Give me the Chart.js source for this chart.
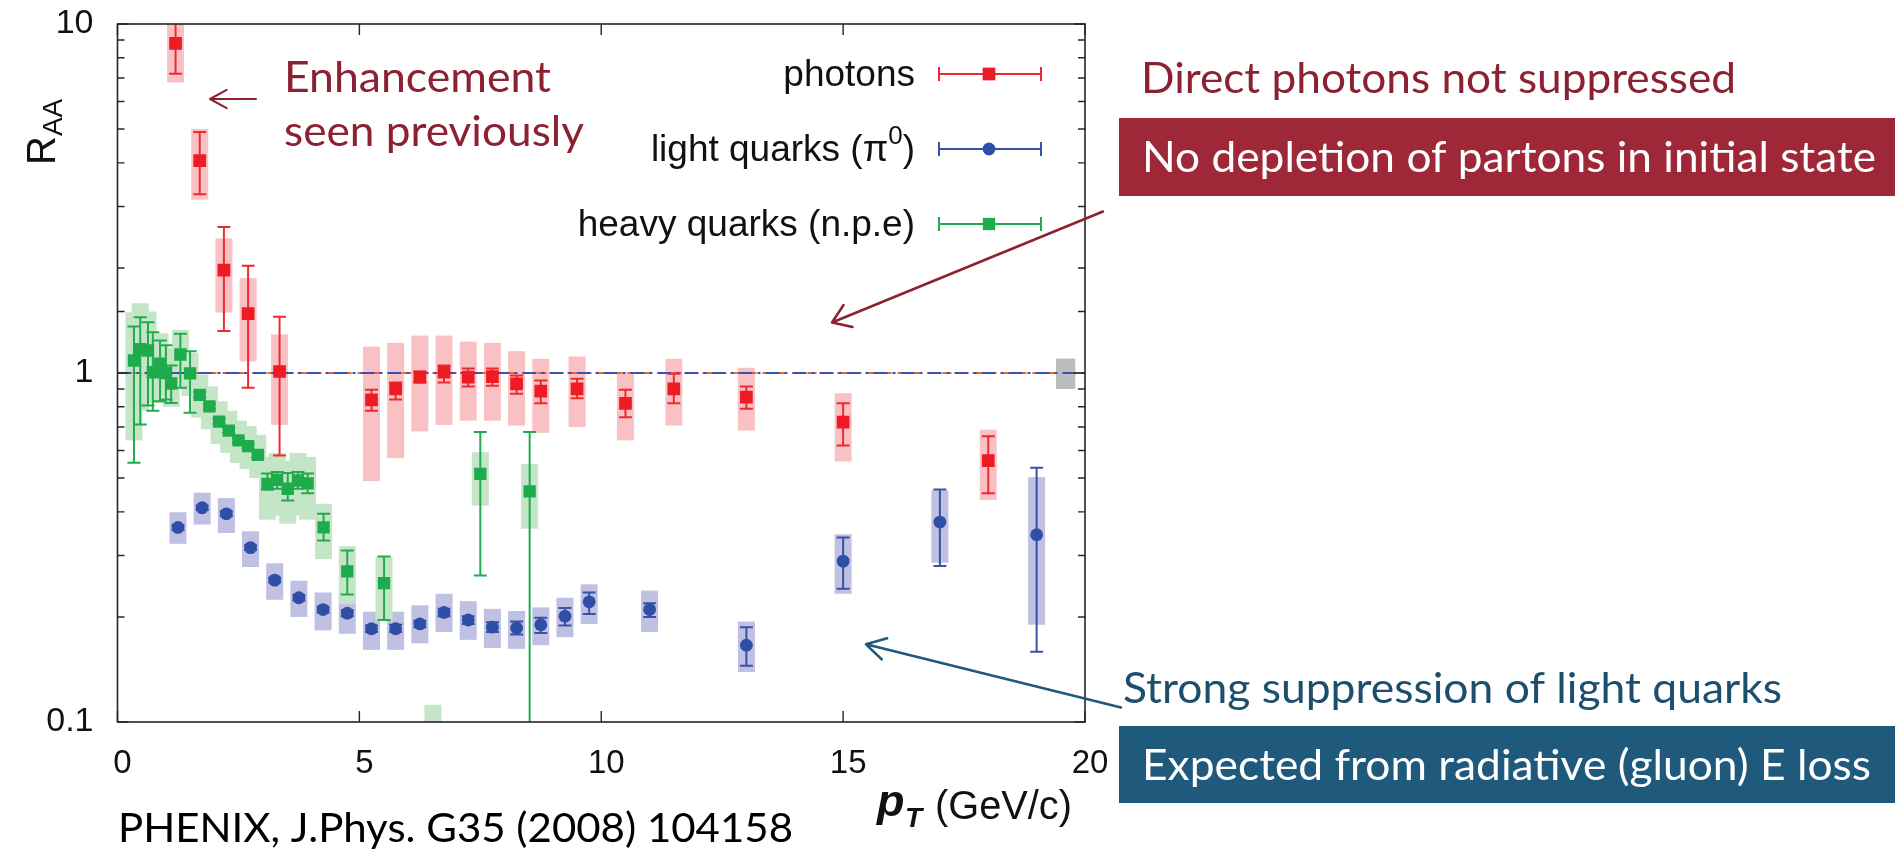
<!DOCTYPE html>
<html>
<head>
<meta charset="utf-8">
<script src="https://cdn.jsdelivr.net/npm/chart.js@4.4.1/dist/chart.umd.min.js"></script>
<style>
  html, body { margin: 0; padding: 0; background: #ffffff; overflow: hidden; }
  canvas { display: block; }
</style>
</head>
<body>
<canvas id="raa" width="1895" height="852"></canvas>
<script>
// Nuclear modification factor R_AA versus p_T, central Au+Au collisions (PHENIX).

// ---- direct photons ----
const photonPt       = [1.2, 1.7, 2.2, 2.7, 3.35, 5.25, 5.75, 6.25, 6.75, 7.25, 7.75, 8.25, 8.75, 9.5, 10.5, 11.5, 13.0, 15.0, 18.0];
const photonRaa      = [8.8, 4.06, 1.97, 1.48, 1.01, 0.838, 0.90, 0.973, 1.005, 0.973, 0.977, 0.931, 0.887, 0.90, 0.819, 0.90, 0.853, 0.723, 0.561];
const photonStatLow  = [7.2, 3.25, 1.32, 0.907, 0.58, 0.78, 0.84, 0.94, 0.94, 0.915, 0.92, 0.872, 0.819, 0.847, 0.747, 0.819, 0.79, 0.62, 0.452];
const photonStatHigh = [10.6, 4.9, 2.62, 2.03, 1.45, 0.895, 0.94, 1.01, 1.05, 1.03, 1.03, 0.984, 0.952, 0.962, 0.895, 0.995, 0.915, 0.819, 0.659];
const photonSysLow   = [6.8, 3.14, 1.49, 1.08, 0.71, 0.49, 0.57, 0.68, 0.71, 0.73, 0.73, 0.707, 0.674, 0.70, 0.641, 0.707, 0.684, 0.558, 0.433];
const photonSysHigh  = [11.0, 5.0, 2.43, 1.87, 1.29, 1.19, 1.22, 1.28, 1.28, 1.23, 1.22, 1.155, 1.098, 1.115, 1.005, 1.098, 1.035, 0.875, 0.688];

// ---- neutral pions (light quarks) ----
const pionPt       = [1.25, 1.75, 2.25, 2.75, 3.25, 3.75, 4.25, 4.75, 5.25, 5.75, 6.25, 6.75, 7.25, 7.75, 8.25, 8.75, 9.25, 9.75, 11.0, 13.0, 15.0, 17.0, 19.0];
const pionRaa      = [0.361, 0.411, 0.395, 0.316, 0.255, 0.227, 0.210, 0.205, 0.185, 0.185, 0.191, 0.206, 0.196, 0.187, 0.186, 0.190, 0.201, 0.221, 0.210, 0.166, 0.289, 0.374, 0.344];
const pionStatLow  = [0.355, 0.405, 0.389, 0.311, 0.251, 0.223, 0.206, 0.201, 0.181, 0.181, 0.187, 0.201, 0.191, 0.181, 0.178, 0.180, 0.189, 0.204, 0.200, 0.145, 0.241, 0.280, 0.159];
const pionStatHigh = [0.367, 0.417, 0.401, 0.321, 0.259, 0.231, 0.214, 0.209, 0.189, 0.190, 0.195, 0.211, 0.201, 0.193, 0.194, 0.199, 0.212, 0.235, 0.219, 0.187, 0.338, 0.464, 0.535];
const pionSysLow   = [0.324, 0.368, 0.348, 0.278, 0.224, 0.200, 0.183, 0.179, 0.161, 0.161, 0.168, 0.181, 0.172, 0.163, 0.162, 0.166, 0.175, 0.191, 0.181, 0.139, 0.233, 0.286, 0.190];
const pionSysHigh  = [0.399, 0.454, 0.438, 0.352, 0.285, 0.254, 0.235, 0.233, 0.207, 0.207, 0.216, 0.233, 0.222, 0.211, 0.208, 0.213, 0.227, 0.248, 0.238, 0.194, 0.345, 0.461, 0.503];

// ---- non-photonic electrons (heavy quarks) ----
const npePt       = [0.34, 0.47, 0.63, 0.73, 0.88, 1.0, 1.11, 1.3, 1.5, 1.7, 1.9, 2.1, 2.3, 2.5, 2.7, 2.9, 3.1, 3.3, 3.52, 3.73, 3.93, 4.26, 4.75, 5.51, 6.52, 7.5, 8.52];
const npeRaa      = [1.086, 1.17, 1.16, 1.005, 1.063, 1.0, 0.933, 1.13, 0.997, 0.866, 0.802, 0.726, 0.684, 0.641, 0.617, 0.583, 0.481, 0.494, 0.466, 0.492, 0.483, 0.361, 0.270, 0.250, 0.08, 0.514, 0.458];
const npeStatLow  = [0.553, 0.712, 0.807, 0.78, 0.83, 0.84, 0.82, 0.907, 0.769, 0.85, 0.79, 0.715, 0.673, 0.631, 0.607, 0.573, 0.463, 0.466, 0.431, 0.466, 0.452, 0.331, 0.232, 0.196, 0.06, 0.263, 0.05];
const npeStatHigh = [1.359, 1.445, 1.398, 1.309, 1.239, 1.2, 1.05, 1.295, 1.155, 0.882, 0.815, 0.738, 0.696, 0.652, 0.628, 0.594, 0.515, 0.52, 0.517, 0.52, 0.515, 0.395, 0.310, 0.298, 0.098, 0.677, 0.677];
const npeSysLow   = [0.641, 0.78, 0.85, 0.82, 0.88, 0.86, 0.80, 0.97, 0.86, 0.745, 0.69, 0.625, 0.59, 0.552, 0.531, 0.50, 0.38, 0.39, 0.37, 0.39, 0.38, 0.293, 0.218, 0.195, 0.056, 0.417, 0.358];
const npeSysHigh  = [1.493, 1.585, 1.5, 1.25, 1.3, 1.18, 1.07, 1.33, 1.14, 0.99, 0.915, 0.83, 0.78, 0.73, 0.705, 0.665, 0.575, 0.59, 0.56, 0.59, 0.575, 0.422, 0.319, 0.297, 0.112, 0.593, 0.549];

// global normalisation uncertainty at R_AA = 1
const normBoxPt  = [19.4, 19.8];
const normBoxRaa = [0.9, 1.1];

// axes
const xTickValues = [0, 5, 10, 15, 20];
const yTickLabels = [0.1, 1, 10];
const seriesNames = ['photons', 'light quarks (π⁰)', 'heavy quarks (n.p.e)'];

// ---- styling ----
const BOX_HALF = 8.5;      // half width of systematic boxes (px)
const CAP_HALF = 6.5;      // half width of error-bar caps (px)
const AXIS_FONT = '"Liberation Sans", Arial, sans-serif';
const NOTE_FONT = 'Lato, "Noto Sans", sans-serif';
const RED_TEXT = '#8c2131', RED_BOX = '#9e2837';
const BLUE_TEXT = '#1c4f6e', BLUE_BOX = '#1f5a7c';

const series = [
  { name: seriesNames[0], pt: photonPt, raa: photonRaa, statLow: photonStatLow, statHigh: photonStatHigh,
    sysLow: photonSysLow, sysHigh: photonSysHigh, line: '#ee2a2f', fill: '#ed1c24', box: '#f9c1c4', marker: 'rect', radius: 9 },
  { name: seriesNames[1], pt: pionPt, raa: pionRaa, statLow: pionStatLow, statHigh: pionStatHigh,
    sysLow: pionSysLow, sysHigh: pionSysHigh, line: '#3652a6', fill: '#2f4ea6', box: '#bfc0e2', marker: 'circle', radius: 6.4 },
  { name: seriesNames[2], pt: npePt, raa: npeRaa, statLow: npeStatLow, statHigh: npeStatHigh,
    sysLow: npeSysLow, sysHigh: npeSysHigh, line: '#22aa4e', fill: '#1dab4b', box: '#c4e6c6', marker: 'rect', radius: 8.7 }
];

// text drawn outside the plot frame
const notes = [
  { text: 'Enhancement', x: 284, y: 92, w: 267, color: RED_TEXT, size: 42 },
  { text: 'seen previously', x: 284, y: 146, w: 300, color: RED_TEXT, size: 42 },
  { text: 'Direct photons not suppressed', x: 1141, y: 93, w: 595, color: RED_TEXT, size: 42 },
  { text: 'No depletion of partons in initial state', x: 1142, y: 172, w: 734, color: '#ffffff', size: 42,
    box: { x: 1119, y: 118, w: 776, h: 78, fill: RED_BOX } },
  { text: 'Strong suppression of light quarks', x: 1123, y: 703, w: 659, color: BLUE_TEXT, size: 42 },
  { text: 'Expected from radiative (gluon) E loss', x: 1142, y: 780, w: 729, color: '#ffffff', size: 42,
    box: { x: 1119, y: 726, w: 776, h: 77, fill: BLUE_BOX } },
  { text: 'PHENIX, J.Phys. G35 (2008) 104158', x: 118, y: 842, w: 675, color: '#000000', size: 40 }
];

const arrows = [
  { from: [256, 99], to: [210, 99], color: RED_TEXT, width: 2, head: 19, spread: 0.5 },
  { from: [1103, 211.5], to: [832, 322.5], color: RED_TEXT, width: 2.5, head: 21, spread: 0.6 },
  { from: [1121, 707.5], to: [866, 644.3], color: '#1e5a7a', width: 2.5, head: 22, spread: 0.52 }
];

function fitText(ctx, text, x, y, font, width, color) {
  ctx.save();
  ctx.font = font;
  ctx.fillStyle = color;
  ctx.textAlign = 'left';
  ctx.textBaseline = 'alphabetic';
  const w = ctx.measureText(text).width;
  ctx.translate(x, y);
  if (width) ctx.scale(width / w, 1);
  ctx.fillText(text, 0, 0);
  ctx.restore();
}

function drawArrow(ctx, a) {
  const [x0, y0] = a.from, [x1, y1] = a.to;
  const ang = Math.atan2(y0 - y1, x0 - x1);
  ctx.save();
  ctx.strokeStyle = a.color;
  ctx.lineWidth = a.width;
  ctx.lineCap = 'round';
  ctx.lineJoin = 'round';
  ctx.beginPath();
  ctx.moveTo(x0, y0); ctx.lineTo(x1, y1);
  ctx.moveTo(x1 + a.head * Math.cos(ang - a.spread), y1 + a.head * Math.sin(ang - a.spread));
  ctx.lineTo(x1, y1);
  ctx.lineTo(x1 + a.head * Math.cos(ang + a.spread), y1 + a.head * Math.sin(ang + a.spread));
  ctx.stroke();
  ctx.restore();
}

const isLabelled = v => yTickLabels.some(t => Math.abs(v - t) < 1e-9 * t);

// keep the plot frame exactly where the layout padding puts it
function noScalePadding(scale) {
  scale.paddingTop = 0; scale.paddingBottom = 0;
  scale.paddingLeft = 0; scale.paddingRight = 0;
}

const raaDecor = {
  id: 'raaDecor',
  beforeDatasetsDraw(chart) {
    const { ctx, chartArea: a, scales: { x, y } } = chart;
    ctx.save();
    ctx.beginPath();
    ctx.rect(a.left, a.top, a.right - a.left, a.bottom - a.top);
    ctx.clip();

    // systematic uncertainty boxes
    series.forEach(s => {
      ctx.fillStyle = s.box;
      s.pt.forEach((p, i) => {
        const px = x.getPixelForValue(p);
        const top = y.getPixelForValue(s.sysHigh[i]);
        const bot = y.getPixelForValue(s.sysLow[i]);
        ctx.fillRect(px - BOX_HALF, top, 2 * BOX_HALF, bot - top);
      });
    });

    // normalisation box
    ctx.fillStyle = '#bdbdbd';
    const nx0 = x.getPixelForValue(normBoxPt[0]), nx1 = x.getPixelForValue(normBoxPt[1]);
    const ny0 = y.getPixelForValue(normBoxRaa[1]), ny1 = y.getPixelForValue(normBoxRaa[0]);
    ctx.fillRect(nx0, ny0, nx1 - nx0, ny1 - ny0);

    // unity reference line
    const y1 = y.getPixelForValue(1);
    const xl = x.getPixelForValue(0), xr = x.getPixelForValue(20);
    ctx.lineWidth = 2;
    ctx.strokeStyle = '#f26522';
    ctx.setLineDash([9, 6]);
    ctx.beginPath(); ctx.moveTo(xl, y1); ctx.lineTo(xr, y1); ctx.stroke();
    ctx.strokeStyle = '#3a4fb8';
    ctx.setLineDash([14, 5, 3, 5]);
    ctx.beginPath(); ctx.moveTo(xl, y1); ctx.lineTo(xr, y1); ctx.stroke();
    ctx.setLineDash([]);

    // statistical error bars
    series.forEach(s => {
      ctx.strokeStyle = s.line;
      ctx.lineWidth = 2;
      ctx.beginPath();
      s.pt.forEach((p, i) => {
        const px = x.getPixelForValue(p);
        const top = y.getPixelForValue(s.statHigh[i]);
        const bot = y.getPixelForValue(s.statLow[i]);
        ctx.moveTo(px, top); ctx.lineTo(px, bot);
        ctx.moveTo(px - CAP_HALF, top); ctx.lineTo(px + CAP_HALF, top);
        ctx.moveTo(px - CAP_HALF, bot); ctx.lineTo(px + CAP_HALF, bot);
      });
      ctx.stroke();
    });
    ctx.restore();
  },
  afterDraw(chart) {
    const { ctx, chartArea: a, scales: { x, y } } = chart;

    // frame with inward ticks
    ctx.save();
    ctx.strokeStyle = '#262626';
    ctx.lineWidth = 1.6;
    ctx.strokeRect(a.left, a.top, a.right - a.left, a.bottom - a.top);
    ctx.lineWidth = 1.4;
    ctx.beginPath();
    y.ticks.forEach(t => {
      const py = y.getPixelForValue(t.value);
      const len = isLabelled(t.value) ? 11 : 7;
      ctx.moveTo(a.left, py); ctx.lineTo(a.left + len, py);
      ctx.moveTo(a.right, py); ctx.lineTo(a.right - len, py);
    });
    x.ticks.forEach(t => {
      const px = x.getPixelForValue(t.value);
      ctx.moveTo(px, a.bottom); ctx.lineTo(px, a.bottom - 11);
      ctx.moveTo(px, a.top); ctx.lineTo(px, a.top + 11);
    });
    ctx.stroke();
    ctx.restore();

    // legend
    const legendY = [74, 149, 224];
    ctx.save();
    series.forEach((s, k) => {
      const ly = legendY[k];
      ctx.font = '37px ' + AXIS_FONT;
      ctx.fillStyle = '#111111';
      ctx.textBaseline = 'middle';
      ctx.textAlign = 'right';
      const parts = s.name.split('⁰');
      if (parts.length > 1) {
        const tail = parts[1];
        const tailW = ctx.measureText(tail).width;
        ctx.fillText(tail, 915, ly + 2);
        ctx.font = '26px ' + AXIS_FONT;
        const supW = ctx.measureText('0').width;
        ctx.fillText('0', 915 - tailW, ly - 12);
        ctx.font = '37px ' + AXIS_FONT;
        ctx.fillText(parts[0], 915 - tailW - supW, ly + 2);
      } else {
        ctx.fillText(s.name, 915, ly + 2);
      }
      ctx.strokeStyle = s.line;
      ctx.lineWidth = 2;
      ctx.beginPath();
      ctx.moveTo(939, ly); ctx.lineTo(1041, ly);
      ctx.moveTo(939, ly - 7); ctx.lineTo(939, ly + 7);
      ctx.moveTo(1041, ly - 7); ctx.lineTo(1041, ly + 7);
      ctx.stroke();
      ctx.fillStyle = s.fill;
      Chart.helpers.drawPoint(ctx, { pointStyle: s.marker, radius: s.radius, borderWidth: 0 }, 989, ly);
    });
    ctx.restore();

    // y-axis title R_AA (rotated)
    ctx.save();
    ctx.translate(55, 165);
    ctx.rotate(-Math.PI / 2);
    ctx.fillStyle = '#111111';
    ctx.textBaseline = 'alphabetic';
    ctx.font = '40px ' + AXIS_FONT;
    ctx.fillText('R', 0, 0);
    const rw = ctx.measureText('R').width;
    ctx.font = '28px ' + AXIS_FONT;
    ctx.fillText('AA', rw, 7);
    ctx.restore();

    // x-axis title p_T (GeV/c)
    ctx.save();
    ctx.fillStyle = '#111111';
    ctx.textBaseline = 'alphabetic';
    ctx.font = 'bold italic 45px ' + AXIS_FONT;
    ctx.fillText('p', 877, 816);
    ctx.font = 'bold italic 28px ' + AXIS_FONT;
    ctx.fillText('T', 905, 827);
    ctx.restore();
    fitText(ctx, '(GeV/c)', 935, 819, '40px ' + AXIS_FONT, 137, '#111111');

    // annotations
    notes.forEach(n => {
      if (n.box) {
        ctx.fillStyle = n.box.fill;
        ctx.fillRect(n.box.x, n.box.y, n.box.w, n.box.h);
      }
      fitText(ctx, n.text, n.x, n.y, n.size + 'px ' + NOTE_FONT, n.w, n.color);
    });
    arrows.forEach(ar => drawArrow(ctx, ar));
  }
};

new Chart(document.getElementById('raa'), {
  type: 'scatter',
  data: {
    datasets: series.map(s => ({
      label: s.name,
      data: s.pt.map((p, i) => ({ x: p, y: s.raa[i] })),
      pointStyle: s.marker,
      pointRadius: s.radius,
      pointHoverRadius: s.radius,
      pointBackgroundColor: s.fill,
      pointBorderWidth: 0,
      showLine: false,
      clip: 0
    }))
  },
  options: {
    responsive: false,
    animation: false,
    devicePixelRatio: 1,
    events: [],
    layout: { padding: { left: 0, top: 24, right: 810, bottom: 0 } },
    plugins: { legend: { display: false }, tooltip: { enabled: false } },
    scales: {
      x: {
        type: 'linear', min: 0, max: 20,
        afterBuildTicks(scale) { scale.ticks = xTickValues.map(v => ({ value: v })); },
        grid: { display: false, drawTicks: false },
        border: { display: false },
        ticks: { padding: 22, labelOffset: 5, color: '#111111', font: { family: AXIS_FONT, size: 33 } },
        afterFit(scale) { scale.height = 130; noScalePadding(scale); }
      },
      y: {
        type: 'logarithmic', min: 0.1, max: 10,
        grid: { display: false, drawTicks: false },
        border: { display: false },
        ticks: {
          autoSkip: false, padding: 24, color: '#111111',
          font: { family: AXIS_FONT, size: 34 },
          callback(v) { return isLabelled(v) ? String(v) : ''; }
        },
        afterFit(scale) { scale.width = 117.5; noScalePadding(scale); }
      }
    }
  },
  plugins: [raaDecor]
});
</script>
</body>
</html>
